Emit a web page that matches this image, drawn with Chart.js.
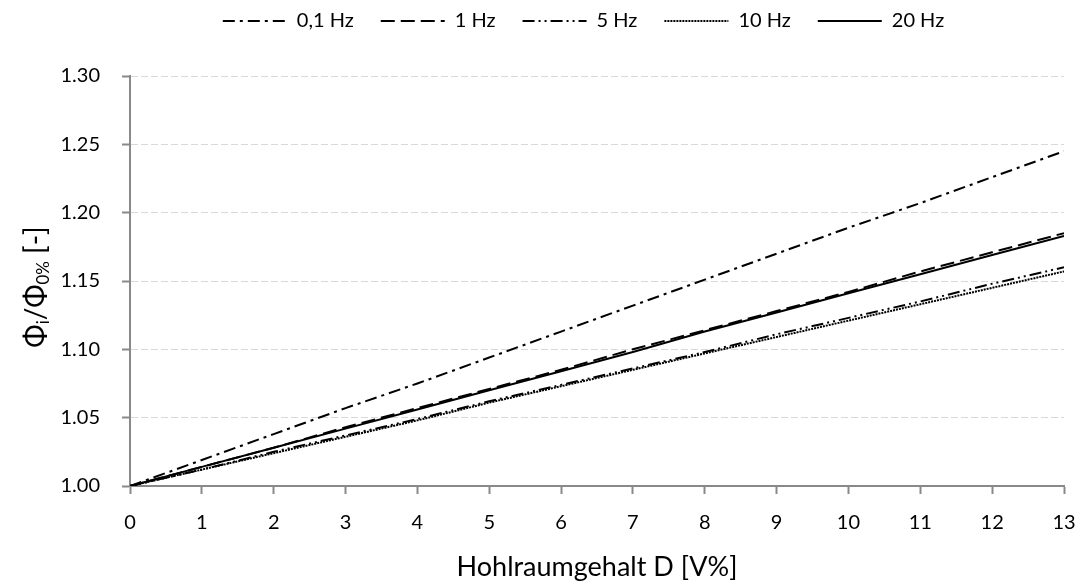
<!DOCTYPE html>
<html>
<head>
<meta charset="utf-8">
<script src="https://cdn.jsdelivr.net/npm/chart.js@4.4.1/dist/chart.umd.min.js"></script>
<style>
  html, body { margin: 0; padding: 0; background: #fff; }
  #wrap { width: 1079px; height: 583px; }
</style>
</head>
<body>
<div id="wrap"><canvas id="chart"></canvas></div>
<script>
// Hohlraumgehalt D [V%]
const voids = [0, 1, 2, 3, 4, 5, 6, 7, 8, 9, 10, 11, 12, 13];

const labels = ['0,1 Hz', '1 Hz', '5 Hz', '10 Hz', '20 Hz'];
const hz01 = [1.000, 1.019, 1.038, 1.057, 1.075, 1.094, 1.113, 1.132, 1.151, 1.170, 1.189, 1.207, 1.226, 1.245];
const hz1  = [1.000, 1.014, 1.028, 1.043, 1.057, 1.071, 1.085, 1.100, 1.114, 1.128, 1.142, 1.157, 1.171, 1.185];
const hz5  = [1.000, 1.012, 1.025, 1.037, 1.049, 1.062, 1.074, 1.086, 1.098, 1.111, 1.123, 1.135, 1.148, 1.160];
const hz10 = [1.000, 1.012, 1.024, 1.036, 1.048, 1.061, 1.073, 1.085, 1.097, 1.109, 1.121, 1.133, 1.145, 1.157];
const hz20 = [1.000, 1.014, 1.028, 1.042, 1.056, 1.070, 1.084, 1.098, 1.113, 1.127, 1.141, 1.155, 1.169, 1.183];

const series = [hz01, hz1, hz5, hz10, hz20];
const dashes = [[12, 5, 3, 5], [14, 6], [12, 4, 2, 4, 2, 4], [2, 1], []];

// y title pieces: [text, subscript?]
const yTitle = [['Φ', false], ['i', true], ['/Φ', false], ['0%', true], [' [-]', false]];

const font = "Lato, 'Open Sans', sans-serif";

const datasets = series.map((vals, i) => ({
    label: labels[i],
    data: vals.map((v, k) => ({x: voids[k], y: v})),
    borderColor: '#000',
    backgroundColor: '#000',
    borderWidth: 2,
    borderDash: dashes[i],
    pointRadius: 0,
    pointStyle: 'line',
    fill: false,
    tension: 0
}));

// legend: fixed height above the plot, moved up and right like the original
const legendTweak = {
    id: 'legendTweak',
    beforeInit(chart) {
        const lg = chart.legend;
        const fit = lg.fit;
        lg.fit = function () {
            fit.call(this);
            this.height = 76;
        };
        const draw = lg.draw;
        lg.draw = function () {
            const ctx = this.ctx;
            ctx.save();
            ctx.translate(37, -16);
            draw.call(this);
            ctx.restore();
        };
    }
};

// rotated y title with subscripts
const yTitlePlugin = {
    id: 'yTitle',
    afterDraw(chart) {
        const ctx = chart.ctx;
        const area = chart.chartArea;
        const big = "28px " + font, small = "17px " + font;
        ctx.save();
        ctx.translate(36, (area.top + area.bottom) / 2 + 6);
        ctx.rotate(-Math.PI / 2);
        ctx.fillStyle = '#000';
        ctx.textBaseline = 'middle';
        ctx.textAlign = 'left';
        let w = 0;
        yTitle.forEach(([t, sub]) => { ctx.font = sub ? small : big; w += ctx.measureText(t).width; });
        let x = -w / 2;
        yTitle.forEach(([t, sub]) => {
            ctx.font = sub ? small : big;
            ctx.fillText(t, x, sub ? 8 : 0);
            x += ctx.measureText(t).width;
        });
        ctx.restore();
    }
};

new Chart(document.getElementById('chart').getContext('2d'), {
    type: 'line',
    data: { datasets: datasets },
    plugins: [legendTweak, yTitlePlugin],
    options: {
        responsive: true,
        maintainAspectRatio: false,
        animation: false,
        layout: { padding: { left: 14, right: 0, top: 0, bottom: 0 } },
        plugins: {
            legend: {
                position: 'top',
                labels: {
                    usePointStyle: true,
                    pointStyle: 'line',
                    pointStyleWidth: 64,
                    boxHeight: 2,
                    padding: 27,
                    color: '#000',
                    font: { family: font, size: 20 },
                    generateLabels(chart) {
                        const items = Chart.defaults.plugins.legend.labels.generateLabels(chart);
                        items.forEach((it, i) => {
                            it.lineDash = dashes[i];
                            it.lineWidth = 2;
                            it.strokeStyle = '#000';
                            it.pointStyle = 'line';
                        });
                        return items;
                    }
                }
            },
            tooltip: { enabled: false }
        },
        scales: {
            x: {
                type: 'linear',
                min: 0,
                max: 13,
                afterFit(scale) {
                    scale.height = 97;
                    scale.paddingRight = 15;
                },
                ticks: {
                    stepSize: 1,
                    color: '#000',
                    padding: 17,
                    font: { family: font, size: 20 }
                },
                grid: {
                    drawOnChartArea: false,
                    drawTicks: true,
                    tickLength: 8,
                    tickColor: '#898989',
                    tickWidth: 2
                },
                border: { color: '#898989', width: 2 },
                title: {
                    display: true,
                    text: 'Hohlraumgehalt D [V%]',
                    color: '#000',
                    font: { family: font, size: 27 },
                    padding: { top: 0, bottom: 0 }
                }
            },
            y: {
                min: 1.0,
                max: 1.3,
                afterFit(scale) {
                    scale.width = 116;
                },
                ticks: {
                    stepSize: 0.05,
                    color: '#000',
                    padding: 22,
                    font: { family: font, size: 20 },
                    callback: v => v.toFixed(2)
                },
                grid: {
                    color: '#d9d9d9',
                    lineWidth: 1,
                    tickLength: 8,
                    tickColor: '#898989',
                    tickWidth: 2,
                    tickBorderDash: []
                },
                border: { color: '#898989', width: 2, dash: [7, 3] }
            }
        }
    }
});
</script>
</body>
</html>
